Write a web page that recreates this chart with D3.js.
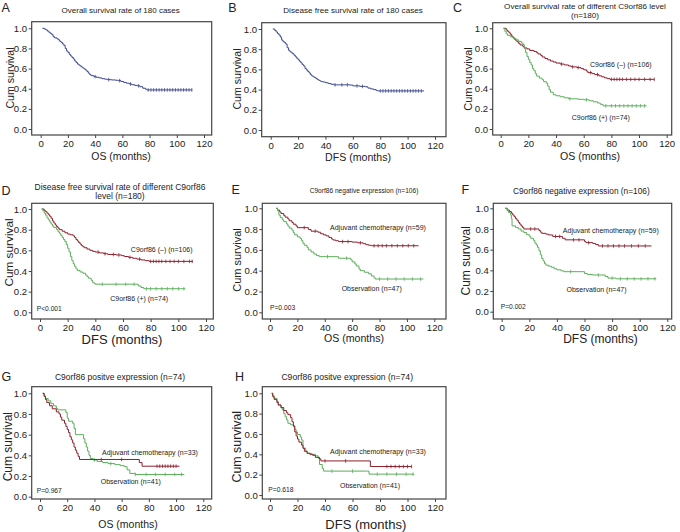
<!DOCTYPE html>
<html><head><meta charset="utf-8">
<script src="https://cdn.jsdelivr.net/npm/d3@7"></script>
<style>body{margin:0;background:#fff}svg{display:block}text{font-family:"Liberation Sans",Arial,Helvetica,sans-serif;fill:#222}</style>
</head><body><svg id="c" width="680" height="532"></svg>
<script>
// ---------- DATA ----------
const xTicks = [0, 20, 40, 60, 80, 100, 120];
const yTicks = [0.0, 0.2, 0.4, 0.6, 0.8, 1.0];
const panelLetters = ["A","B","C","D","E","F","G","H"];
const panelTitles = [
  ["Overall survival rate of 180 cases"],
  ["Disease free survival rate of 180 cases"],
  ["Overall survival rate of different C9orf86 level","(n=180)"],
  ["Disease free survival rate of different C9orf86","level (n=180)"],
  ["C9orf86 negative expression (n=106)"],
  ["C9orf86 negative expression (n=106)"],
  ["C9orf86 positve expression (n=74)"],
  ["C9orf86 positve expression (n=74)"]
];
const xLabels = ["OS (months)","DFS (months)","OS (months)","DFS (months)","OS (months)","DFS (months)","OS (months)","DFS (months)"];
const yLabel = "Cum survival";
const pValues = [null, null, null, "P<0.001", "P=0.003", "P=0.002", "P=0.967", "P=0.618"];

// Kaplan-Meier steps: [time (months), cumulative survival]
const osAll = [[1.2,1.0],[3,0.99],[4,0.983],[5,0.972],[6,0.96],[7,0.95],[8,0.94],[9,0.92],[10,0.905],[12,0.895],[13,0.885],[14,0.87],[15,0.86],[16,0.845],[17,0.83],[18,0.8],[19,0.775],[20,0.76],[21,0.74],[22,0.725],[23,0.71],[24,0.695],[25,0.675],[26,0.66],[27,0.645],[28,0.635],[29,0.625],[30,0.615],[31,0.605],[32,0.595],[33,0.585],[34,0.57],[35,0.555],[36,0.54],[37,0.53],[39,0.52],[41,0.513],[43,0.507],[45,0.5],[47,0.495],[49,0.49],[52,0.487],[55,0.484],[57,0.48],[59,0.472],[61,0.462],[63,0.455],[65,0.447],[67,0.44],[69,0.433],[71,0.428],[73,0.42],[75,0.405],[77,0.395],[78,0.388],[111.5,0.388]];
const osAllCens = [40,50,58,66,72,79,81,83,85,87,89,91,93,95,97,99,101,103,105,107,109,111];

const dfsAll = [[1.5,1.0],[3,0.985],[4,0.97],[5,0.955],[6,0.94],[7,0.92],[8,0.89],[9,0.875],[10,0.865],[11,0.85],[12,0.815],[13,0.79],[14,0.775],[15,0.765],[16,0.755],[17,0.74],[18,0.725],[19,0.71],[20,0.695],[21,0.68],[22,0.665],[23,0.648],[24,0.635],[25,0.61],[26,0.595],[27,0.58],[28,0.565],[29,0.548],[30,0.535],[31,0.527],[32,0.52],[33,0.51],[34,0.5],[35,0.492],[36,0.485],[37,0.48],[38,0.475],[40,0.468],[42,0.46],[44,0.453],[46,0.447],[58,0.445],[60,0.437],[65,0.432],[69,0.428],[71,0.415],[73,0.407],[75,0.4],[77,0.392],[78,0.387],[112,0.387]];
const dfsAllCens = [47,52,56,63,67,80,82,84,86,88,90,92,94,96,98,100,102,104,106,108,110];

const osNeg = [[2,1.0],[4,0.983],[5,0.97],[6,0.955],[7,0.94],[8,0.92],[9,0.905],[10,0.89],[11,0.875],[12,0.865],[13,0.85],[14,0.835],[16,0.82],[17,0.805],[19,0.795],[21,0.78],[24,0.77],[26,0.757],[27,0.745],[29,0.73],[30,0.715],[32,0.7],[34,0.687],[36,0.675],[38,0.665],[40,0.655],[43,0.645],[46,0.636],[49,0.626],[51,0.617],[55,0.61],[58,0.6],[60,0.588],[62,0.575],[63,0.56],[66,0.55],[68,0.54],[71,0.528],[73,0.518],[75,0.508],[77,0.5],[79,0.493],[111,0.493]];
const osNegCens = [44,52,56,65,70,80,82,84,86,88,91,94,97,100,104,108,111];
const osPos = [[2,1.0],[3,0.97],[4,0.945],[5,0.93],[7,0.915],[9,0.9],[11,0.885],[13,0.87],[15,0.855],[16,0.84],[17,0.8],[18,0.76],[19,0.72],[20,0.69],[21,0.66],[22,0.635],[23,0.6],[24,0.58],[25,0.55],[26,0.525],[28,0.505],[30,0.49],[31,0.47],[33,0.455],[34,0.425],[35,0.39],[36,0.365],[38,0.34],[40,0.33],[43,0.32],[46,0.31],[49,0.3],[56,0.295],[60,0.29],[64,0.28],[67,0.27],[70,0.258],[72,0.245],[74,0.23],[105.5,0.23]];
const osPosCens = [50,62,76,80,83,86,89,92,95,98,101,104];

const dfsNeg = [[1.2,1.0],[3,0.985],[4,0.975],[5,0.96],[6,0.945],[7,0.93],[8,0.91],[9,0.885],[10,0.865],[11,0.845],[12,0.83],[13,0.815],[14,0.8],[16,0.785],[18,0.77],[20,0.757],[22,0.75],[24,0.74],[25,0.725],[26,0.705],[27,0.69],[28,0.675],[29,0.66],[30,0.645],[31,0.635],[32,0.625],[34,0.612],[36,0.6],[38,0.59],[40,0.583],[43,0.575],[46,0.567],[49,0.56],[55,0.555],[59,0.548],[61,0.54],[64,0.532],[67,0.523],[70,0.515],[73,0.507],[76,0.5],[79,0.493],[110.5,0.493]];
const dfsNegCens = [42,47,53,57,65,72,80,82,84,86,88,91,94,97,100,104,108,110];
const dfsPos = [[1.2,1.0],[2,0.985],[3,0.96],[4,0.94],[5,0.915],[6,0.895],[7,0.875],[8,0.855],[9,0.835],[10,0.82],[12,0.8],[13,0.78],[14,0.765],[15,0.745],[16,0.725],[17,0.705],[18,0.685],[19,0.655],[20,0.62],[21,0.585],[22,0.54],[23,0.5],[24,0.47],[25,0.445],[26,0.42],[27,0.405],[29,0.39],[31,0.378],[33,0.36],[34,0.345],[35,0.33],[37,0.31],[38,0.29],[39,0.28],[40,0.272],[70,0.272],[71,0.255],[73,0.24],[75,0.228],[105,0.228]];
const dfsPosCens = [45,55,62,68,77,80,84,88,92,96,100,104];

const osNegAdj = [[4.5,1.0],[5.5,0.983],[7,0.966],[8,0.95],[10,0.932],[11,0.915],[13,0.898],[14,0.88],[16,0.864],[17,0.847],[19,0.83],[20,0.814],[28,0.797],[30,0.78],[35,0.77],[37,0.755],[39,0.745],[41,0.735],[43,0.72],[45,0.705],[46,0.695],[48,0.688],[50,0.68],[60,0.675],[64,0.668],[68,0.66],[70,0.65],[72,0.645],[74,0.64],[108.5,0.64]];
const osNegAdjCens = [25,33,53,57,66,76,79,82,85,89,93,97,101,105];
const osNegObs = [[4.5,1.0],[5.5,0.978],[6.5,0.935],[7.5,0.91],[9,0.89],[10,0.872],[12,0.85],[13,0.83],[14,0.81],[16,0.79],[17,0.765],[18,0.745],[20,0.725],[22,0.71],[23,0.69],[24,0.665],[25,0.645],[27,0.625],[28,0.6],[30,0.58],[32,0.56],[34,0.545],[36,0.535],[50,0.52],[59,0.505],[60,0.485],[62,0.465],[63,0.445],[65,0.415],[66,0.4],[69,0.385],[72,0.37],[74,0.35],[76,0.33],[77,0.32],[112,0.32]];
const osNegObsCens = [42,56,80,86,92,98,104,110];

const dfsNegAdj = [[2.5,1.0],[4,0.984],[5.5,0.968],[7,0.952],[8,0.935],[9,0.918],[10,0.9],[11,0.885],[12,0.865],[13,0.848],[14,0.83],[15,0.815],[16,0.8],[27,0.785],[28,0.77],[29,0.758],[32,0.75],[34,0.742],[37,0.728],[44,0.71],[46,0.695],[60,0.68],[61,0.668],[66,0.66],[68,0.65],[70,0.636],[108.5,0.636]];
const dfsNegAdjCens = [21,24,39,42,52,56,63,73,77,81,85,89,94,99,104];
const dfsNegObs = [[2.5,1.0],[4,0.975],[5,0.96],[6.5,0.935],[7,0.9],[7.5,0.83],[10,0.815],[12,0.8],[14,0.78],[16,0.765],[18,0.745],[20,0.73],[21,0.71],[23,0.69],[24,0.665],[25,0.645],[26,0.62],[27,0.59],[28,0.55],[29,0.515],[30,0.49],[31,0.465],[32,0.45],[34,0.44],[36,0.43],[38,0.415],[40,0.405],[43,0.395],[45,0.387],[59,0.387],[60,0.37],[62,0.36],[66,0.355],[75,0.34],[77,0.325],[83,0.318],[112,0.318]];
const dfsNegObsCens = [50,70,80,86,91,96,101,106,111];

const osPosAdj = [[2,1.0],[3,0.97],[4,0.94],[5,0.91],[7,0.88],[9,0.85],[12,0.82],[14,0.8],[15,0.77],[16,0.74],[18,0.71],[19,0.68],[20,0.65],[21,0.62],[22,0.58],[23,0.55],[24,0.52],[25,0.48],[26,0.45],[27,0.42],[28,0.39],[29,0.36],[73,0.33],[75,0.295],[102.5,0.295]];
const osPosAdjCens = [45,60,86,88,90,92,94,96,98,100];
const osPosObs = [[2,1.0],[3,0.976],[4,0.95],[6,0.927],[8,0.9],[10,0.878],[12,0.855],[13,0.84],[19,0.815],[20,0.76],[21,0.73],[24,0.71],[25,0.66],[26,0.6],[32,0.56],[33,0.52],[34,0.48],[35,0.44],[36,0.4],[37,0.37],[39,0.355],[42,0.34],[46,0.33],[50,0.32],[55,0.31],[59,0.3],[62,0.29],[64,0.26],[66,0.225],[70,0.215],[106,0.215]];
const osPosObsCens = [40,52,70,78,85,92,99,104];

const dfsPosAdj = [[1.2,1.0],[2,0.967],[3,0.94],[5,0.91],[6,0.885],[8,0.86],[10,0.83],[12,0.81],[13,0.79],[15,0.76],[16,0.72],[17,0.68],[18,0.62],[19,0.58],[20,0.55],[21,0.52],[23,0.49],[24,0.46],[25,0.43],[27,0.41],[29,0.4],[31,0.39],[33,0.37],[36,0.355],[37,0.335],[73,0.28],[103,0.28]];
const dfsPosAdjCens = [40,55,85,88,91,94,97,100,103];
const dfsPosObs = [[1.2,1.0],[2,0.975],[3,0.95],[5,0.92],[6,0.885],[8,0.855],[9,0.836],[10,0.8],[11,0.77],[12,0.74],[13,0.705],[15,0.69],[17,0.67],[18,0.645],[19,0.62],[20,0.595],[22,0.57],[23,0.54],[24,0.46],[26,0.43],[27,0.41],[30,0.4],[33,0.385],[35,0.36],[36,0.3],[38,0.26],[39,0.235],[71,0.235],[72,0.205],[105,0.205]];
const dfsPosObsCens = [45,60,78,85,92,99,104];

const groupLabels = {
  neg: "C9orf86 (–) (n=106)", pos: "C9orf86 (+) (n=74)",
  adj59: "Adjuvant chemotherapy (n=59)", obs47: "Observation (n=47)",
  adj33: "Adjuvant chemotherapy (n=33)", obs41: "Observation (n=41)"
};

// ---------- STYLE / LAYOUT ----------
const BLUE = "#3d4a8e", RED = "#8e1f2c", GREEN = "#5cae5c";
const layouts = [
  {box:[31.7,21.7,211.7,135], x:[40.7,204], y:[129,28.3], letter:[1.5,11.8], title:[120.7,[12.8]], tfs:8, xl:[121,160,10.5], yl:[13.5,78,10.6]},
  {box:[261.7,22.7,446,136.7], x:[270.7,435], y:[130,29], letter:[228.3,11.8], title:[353,[13.3]], tfs:8.1, xl:[358,160.5,10.6], yl:[241,79,10.6]},
  {box:[492.7,22.7,671.7,135], x:[500.7,666.7], y:[129,28.3], letter:[453,11.8], title:[585,[9.3,17.6]], tfs:8.1, xl:[590,160,10.6], yl:[472,79,11]},
  {box:[31.7,203.3,213.3,319], x:[40,206], y:[312.3,209], letter:[1.5,195], title:[120,[190.3,199]], tfs:8.5, xl:[122,344,13], yl:[12.5,252.5,11.8]},
  {box:[262.3,203.3,446,319], x:[270,434.3], y:[312.3,208.3], letter:[231.5,194.3], title:[364,[193.3]], tfs:6.6, xl:[354,341.5,10.6], yl:[241,260,11]},
  {box:[493.3,203.3,671.7,319], x:[501.7,667.3], y:[311.7,208.3], letter:[461.5,194.3], title:[581.3,[194]], tfs:8.3, xl:[600.5,342.5,12], yl:[470,260.8,12]},
  {box:[31.7,386.7,211.7,499], x:[40,203.3], y:[496.7,393.3], letter:[1.5,381], title:[120,[380]], tfs:8.5, xl:[128,527.5,10.5], yl:[11.5,446.7,12]},
  {box:[262.3,386.7,446,499], x:[270,435], y:[495,393.3], letter:[235,381], title:[347.2,[380]], tfs:8.6, xl:[365.8,528.5,13], yl:[241,446.7,12.4]}
];
const panelCurves = [
  [{d:osAll, c:osAllCens, col:BLUE}],
  [{d:dfsAll, c:dfsAllCens, col:BLUE}],
  [{d:osNeg, c:osNegCens, col:RED, lab:groupLabels.neg, lp:[620.8,66.7]},
   {d:osPos, c:osPosCens, col:GREEN, lab:groupLabels.pos, lp:[600.8,119.5]}],
  [{d:dfsNeg, c:dfsNegCens, col:RED, lab:groupLabels.neg, lp:[161.7,252]},
   {d:dfsPos, c:dfsPosCens, col:GREEN, lab:groupLabels.pos, lp:[139.2,301.3]}],
  [{d:osNegAdj, c:osNegAdjCens, col:RED, lab:groupLabels.adj59, lp:[378,230]},
   {d:osNegObs, c:osNegObsCens, col:GREEN, lab:groupLabels.obs47, lp:[371.7,291.3]}],
  [{d:dfsNegAdj, c:dfsNegAdjCens, col:RED, lab:groupLabels.adj59, lp:[610.8,233.3]},
   {d:dfsNegObs, c:dfsNegObsCens, col:GREEN, lab:groupLabels.obs47, lp:[596.5,291.7]}],
  [{d:osPosObs, c:osPosObsCens, col:GREEN, lab:groupLabels.obs41, lp:[130.8,483.7]},
   {d:osPosAdj, c:osPosAdjCens, col:RED, lab:groupLabels.adj33, lp:[150,455]}],
  [{d:dfsPosObs, c:dfsPosObsCens, col:GREEN, lab:groupLabels.obs41, lp:[370,488.3]},
   {d:dfsPosAdj, c:dfsPosAdjCens, col:RED, lab:groupLabels.adj33, lp:[378,454.3]}]
];
const pPos = [null,null,null,[36.7,310.7],[270,310.3],[500.7,308.7],[36.7,492.7],[268.3,491.7]];

// ---------- DRAW ----------
const svg = d3.select("#c");
function survAt(d, t){ let s = d[0][1]; for (const p of d){ if (p[0] <= t) s = p[1]; else break; } return s; }

layouts.forEach((L, i) => {
  const g = svg.append("g");
  const [bx0, by0, bx1, by1] = L.box;
  const x = d3.scaleLinear().domain([0,120]).range(L.x);
  const y = d3.scaleLinear().domain([0,1]).range(L.y);

  const clipId = "clip" + i;
  g.append("clipPath").attr("id", clipId).append("rect")
    .attr("x", bx0).attr("y", by0).attr("width", bx1-bx0).attr("height", by1-by0);
  const line = d3.line().x(p => x(p[0])).y(p => y(p[1])).curve(d3.curveStepAfter);
  const cg = g.append("g").attr("clip-path", `url(#${clipId})`);
  panelCurves[i].forEach(cv => {
    cg.append("path").attr("d", line(cv.d)).attr("fill","none")
      .attr("stroke", cv.col).attr("stroke-width", 1);
    cg.selectAll(null).data(cv.c).enter().append("line")
      .attr("x1", t => x(t)).attr("x2", t => x(t))
      .attr("y1", t => y(survAt(cv.d, t)) - 1.8).attr("y2", t => y(survAt(cv.d, t)) + 1.8)
      .attr("stroke", cv.col).attr("stroke-width", 0.8);
    if (cv.lab) g.append("text").attr("x", cv.lp[0]).attr("y", cv.lp[1])
      .attr("text-anchor","middle").attr("font-size", 7).text(cv.lab);
  });

  g.append("rect").attr("x", bx0).attr("y", by0).attr("width", bx1-bx0).attr("height", by1-by0)
    .attr("fill","none").attr("stroke","#444").attr("stroke-width",1.2);

  const xa = g.append("g").attr("transform", `translate(0,${by1})`)
    .call(d3.axisBottom(x).tickValues(xTicks).tickSize(3).tickPadding(2).tickFormat(d3.format("d")));
  xa.select(".domain").remove();
  xa.selectAll("line").attr("stroke","#444");
  xa.selectAll("text").attr("font-size", 9.6).attr("fill","#222")
    .attr("font-family", '"Liberation Sans",Arial,sans-serif');

  const ya = g.append("g").attr("transform", `translate(${bx0},0)`)
    .call(d3.axisLeft(y).tickValues(yTicks).tickSize(3).tickPadding(1.5).tickFormat(d3.format(".1f")));
  ya.select(".domain").remove();
  ya.selectAll("line").attr("stroke","#444");
  ya.selectAll("text").attr("font-size", 9.6).attr("fill","#222")
    .attr("font-family", '"Liberation Sans",Arial,sans-serif');

  g.append("text").attr("x", L.xl[0]).attr("y", L.xl[1]).attr("text-anchor","middle")
    .attr("font-size", L.xl[2]).text(xLabels[i]);
  g.append("text").attr("transform", `translate(${L.yl[0]},${L.yl[1]}) rotate(-90)`)
    .attr("text-anchor","middle").attr("font-size", L.yl[2]).text(yLabel);

  panelTitles[i].forEach((t, k) => {
    g.append("text").attr("x", L.title[0]).attr("y", L.title[1][k]).attr("text-anchor","middle")
      .attr("font-size", L.tfs).text(t);
  });
  g.append("text").attr("x", L.letter[0]).attr("y", L.letter[1]).attr("font-size", 12.5)
    .text(panelLetters[i]);
  if (pValues[i]) g.append("text").attr("x", pPos[i][0]).attr("y", pPos[i][1])
    .attr("font-size", 6.7).text(pValues[i]);
});
</script></body></html>
